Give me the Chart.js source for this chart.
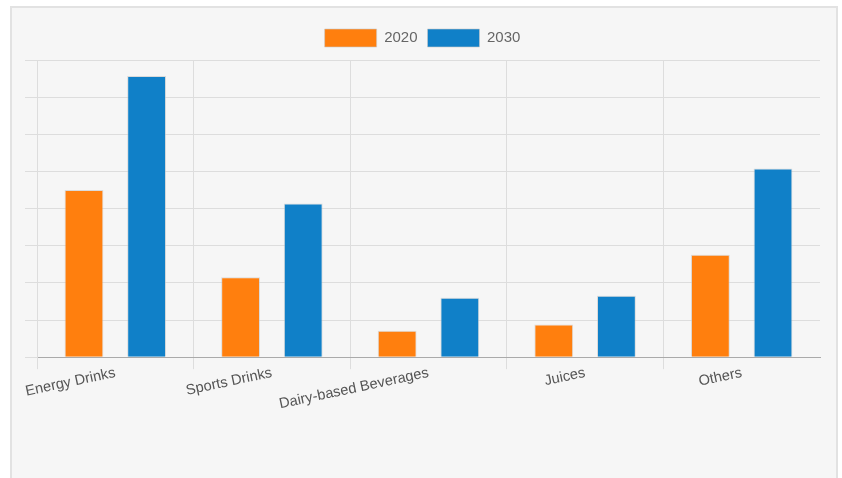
<!DOCTYPE html>
<html>
<head>
<meta charset="utf-8">
<script src="https://cdn.jsdelivr.net/npm/chart.js@4.4.0/dist/chart.umd.min.js"></script>
<style>
  body { margin: 0; background: #ffffff; }
  #box {
    position: absolute; left: 10px; top: 6px;
    width: 824px; height: 480px;
    background: #f6f6f6; border: 2px solid #e2e2e2;
  }
  #wrap { position: absolute; left: 0; top: 0; width: 822px; height: 430px; }
</style>
</head>
<body>
<div id="box"><div id="wrap"><canvas id="chart"></canvas></div></div>
<script>
const categories = ['Energy Drinks', 'Sports Drinks', 'Dairy-based Beverages', 'Juices', 'Others'];
const values2020 = [4.5, 2.15, 0.71, 0.88, 2.76];
const values2030 = [7.57, 4.14, 1.6, 1.65, 5.08];
const seriesLabels = ['2020', '2030'];

// a bit more room under the legend
const legendGap = {
  id: 'legendGap',
  beforeLayout(chart) {
    const lg = chart.legend;
    if (lg && !lg._gap) {
      const fit = lg.fit;
      lg.fit = function () {
        fit.call(this);
        this.height += 3;
      };
      lg._gap = true;
    }
  },
};

const ctx = document.getElementById('chart').getContext('2d');

new Chart(ctx, {
  type: 'bar',
  data: {
    labels: categories,
    datasets: [
      {
        label: seriesLabels[0],
        data: values2020,
        backgroundColor: '#ff7f0e',
        borderColor: 'rgba(200, 200, 200, 0.6)',
        borderWidth: 1,
        barPercentage: 0.62,
        categoryPercentage: 0.8,
      },
      {
        label: seriesLabels[1],
        data: values2030,
        backgroundColor: '#1080c8',
        borderColor: 'rgba(200, 200, 200, 0.6)',
        borderWidth: 1,
        barPercentage: 0.62,
        categoryPercentage: 0.8,
      },
    ],
  },
  plugins: [legendGap],
  options: {
    responsive: true,
    maintainAspectRatio: false,
    animation: false,
    layout: { padding: { left: 13, right: 14, top: 11, bottom: 30 } },
    plugins: {
      legend: {
        labels: {
          boxWidth: 52,
          boxHeight: 18,
          color: '#666',
          font: { family: 'Liberation Sans, Arial, sans-serif', size: 15 },
        },
      },
      tooltip: { enabled: false },
    },
    scales: {
      x: {
        grid: {
          color: (c) => (c.tick ? '#dddddd' : 'rgba(0,0,0,0)'),
          tickLength: 12,
        },
        border: { color: '#aaaaaa' },
        ticks: {
          minRotation: 12,
          maxRotation: 12,
          padding: -5,
          color: '#555',
          font: { family: 'Liberation Sans, Arial, sans-serif', size: 14.6 },
        },
      },
      y: {
        min: 0,
        max: 8,
        grid: { color: '#dddddd', tickLength: 12 },
        border: { color: '#dddddd' },
        ticks: { display: false, stepSize: 1 },
      },
    },
  },
});
</script>
</body>
</html>
